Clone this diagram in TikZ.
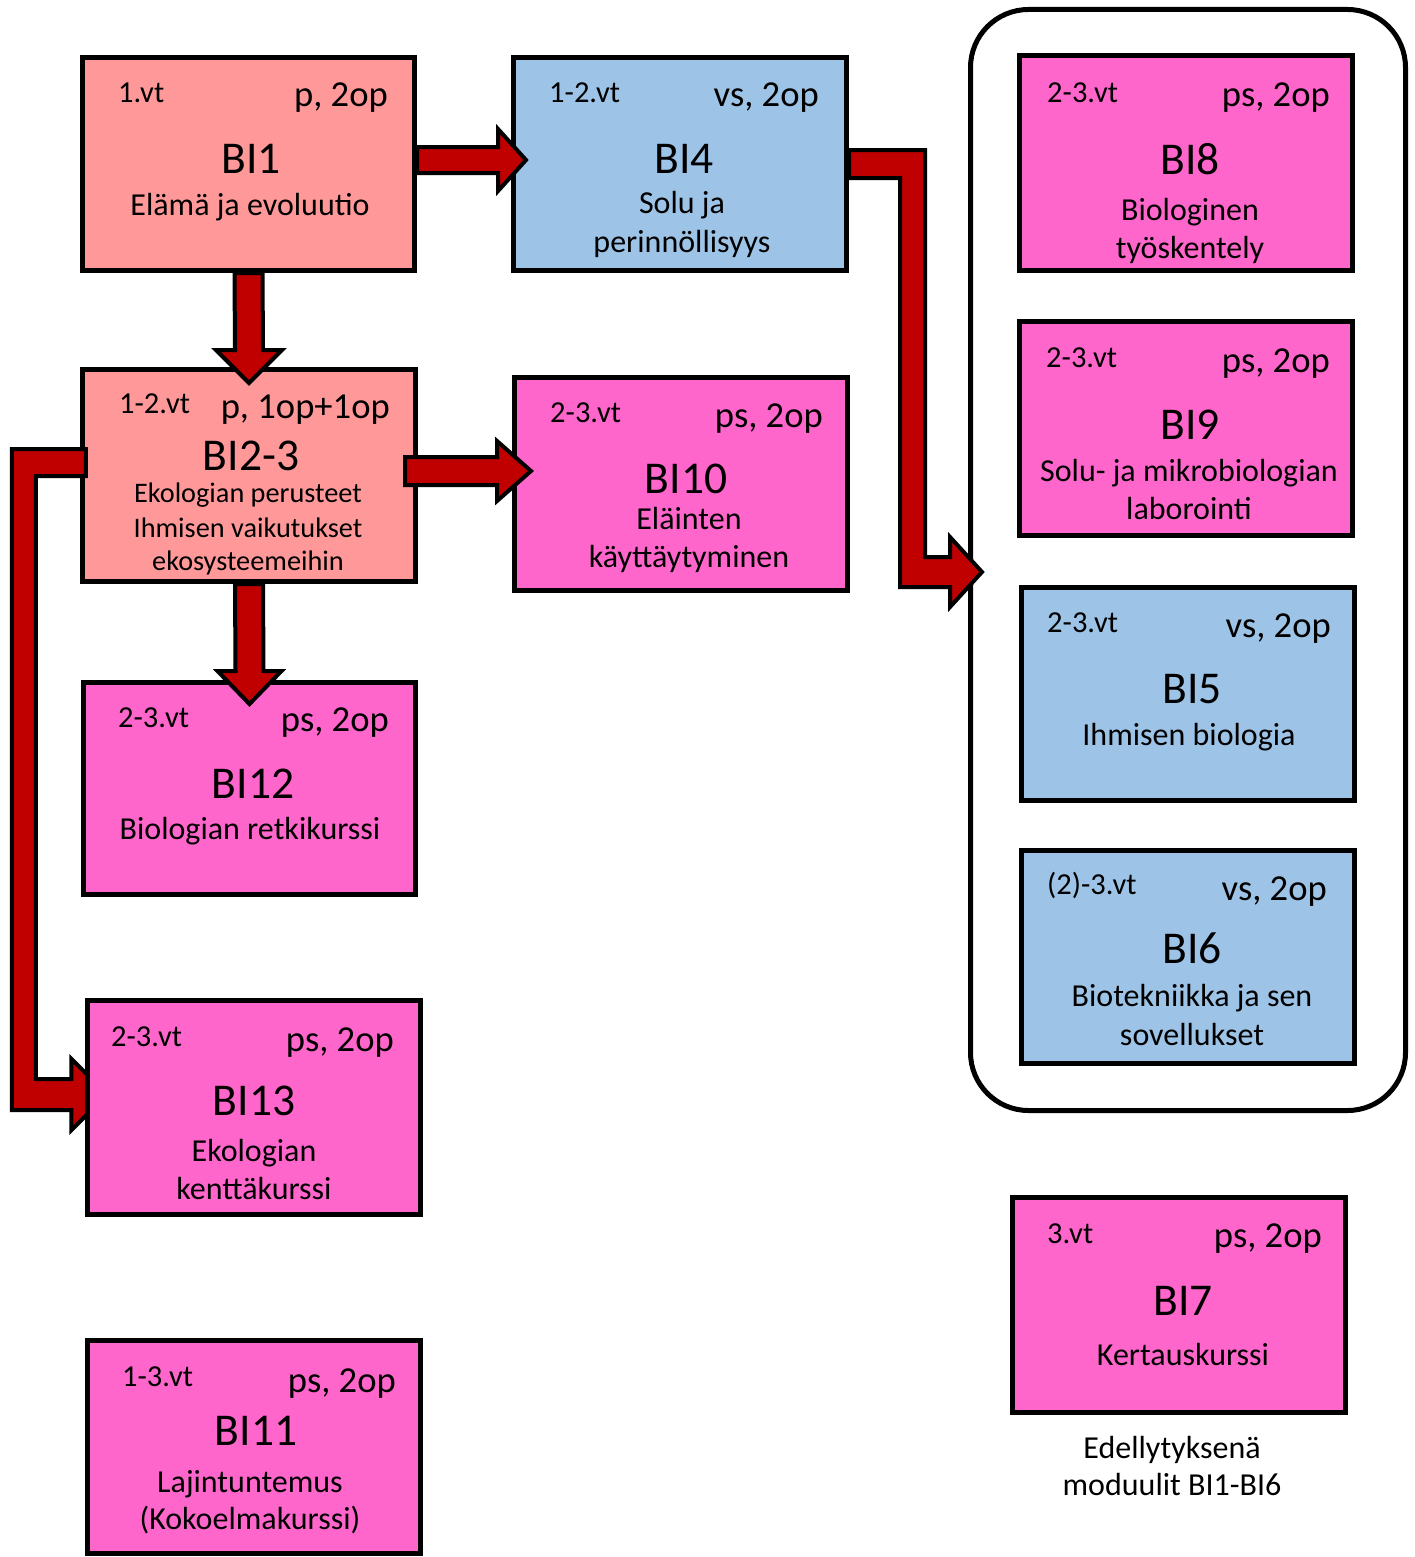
\documentclass[tikz,border=0pt]{standalone}
\usepackage{fontspec}
\setmainfont{Carlito}
\usetikzlibrary{calc}
\definecolor{salmon}{HTML}{FF9999}
\definecolor{lblue}{HTML}{9DC3E6}
\definecolor{pinkc}{HTML}{FF66CC}
\definecolor{arrowred}{HTML}{C00000}
\pgfdeclarelayer{toplayer}
\pgfsetlayers{main,toplayer}
\newcommand\fsz[1]{\fontsize{#1bp}{#1bp}\selectfont}
\newcommand\harrow[5]{\draw[blockarrow] ($(#1)+(0,-#3)$) -- ($(#2)+(-#5,-#3)$) -- ($(#2)+(-#5,-#4)$) -- (#2) -- ($(#2)+(-#5,#4)$) -- ($(#2)+(-#5,#3)$) -- ($(#1)+(0,#3)$) -- cycle;}
\newcommand\varrow[5]{\draw[blockarrow] ($(#1)+(-#3,0)$) -- ($(#2)+(-#3,-#5)$) -- ($(#2)+(-#4,-#5)$) -- (#2) -- ($(#2)+(#4,-#5)$) -- ($(#2)+(#3,-#5)$) -- ($(#1)+(#3,0)$) -- cycle;}
\tikzset{
  box/.style={draw=black, line width=5bp, inner sep=0pt, outer sep=2.5bp},
  lab/.style={anchor=base west, font=\fsz{30.5}, inner sep=0pt},
  crd/.style={anchor=base east, font=\fsz{36.6}, inner sep=0pt},
  ttl/.style={anchor=base, font=\fsz{45.5}, inner sep=0pt},
  sub/.style={anchor=base, font=\fsz{32}, inner sep=0pt},
  subs/.style={anchor=base, font=\fsz{28.3}, inner sep=0pt},
  blockarrow/.style={fill=arrowred, draw=black, line width=4bp, line join=miter},
}
\begin{document}
\begin{tikzpicture}[x=1bp, y=-1bp]
\useasboundingbox (0,0) rectangle (1415,1557);
% container
\node[draw=black, line width=5bp, rounded corners=58bp, outer sep=2.5bp, minimum width=435bp, minimum height=1101bp] (cont) at (1188,560) {};
% boxes
\node[box, fill=salmon, minimum width=332bp, minimum height=213bp] (BI1) at (248.5,164) {};
\node[box, fill=lblue, minimum width=333bp, minimum height=213bp] (BI4) at (680,164) {};
\node[box, fill=salmon, minimum width=333bp, minimum height=212bp] (BI23) at (249,475.5) {};
\node[box, fill=pinkc, minimum width=333bp, minimum height=213bp] (BI10) at (681,484) {};
\node[box, fill=pinkc, minimum width=332bp, minimum height=212bp] (BI12) at (249.5,788.5) {};
\node[box, fill=pinkc, minimum width=333bp, minimum height=213bp] (BI11) at (254,1447) {};
\node[box, fill=pinkc, minimum width=333bp, minimum height=215bp] (BI8) at (1186,163) {};
\node[box, fill=pinkc, minimum width=333bp, minimum height=214bp] (BI9) at (1186,428.5) {};
\node[box, fill=lblue, minimum width=333bp, minimum height=213bp] (BI5) at (1188,694) {};
\node[box, fill=lblue, minimum width=333bp, minimum height=213bp] (BI6) at (1188,957) {};
\node[box, fill=pinkc, minimum width=333bp, minimum height=215bp] (BI7) at (1179,1305) {};
\begin{pgfonlayer}{toplayer}
\node[box, fill=pinkc, minimum width=333bp, minimum height=214bp] (BI13) at (254,1107.5) {};
\node[lab] (BI13l) at (111,1046) {2-3.vt};
\node[crd] (BI13r) at (394,1051) {ps, 2op};
\node[ttl] (BI13t) at (254,1115) {BI13};
\node[sub] (BI13s) at (254,1161) {Ekologian};
\node[sub] (BI13u) at (254,1199) {kenttäkurssi};
\end{pgfonlayer}
% texts
\node[lab] (BI1l) at (118,103) {1.vt};
\node[crd] (BI1r) at (388,107) {p, 2op};
\node[ttl] (BI1t) at (251,173) {BI1};
\node[sub] (BI1s) at (250,215) {Elämä ja evoluutio};
\node[lab] (BI4l) at (549,103) {1-2.vt};
\node[crd] (BI4r) at (819,107) {vs, 2op};
\node[ttl] (BI4t) at (684,173) {BI4};
\node[sub] (BI4s) at (682,213) {Solu ja};
\node[sub] (BI4u) at (682,252) {perinnöllisyys};
\node[lab] (BI23l) at (119,413) {1-2.vt};
\node[crd] (BI23r) at (390,418) {p, 1op+1op};
\node[ttl] (BI23t) at (251,470) {BI2-3};
\node[subs] (BI23s) at (248,502) {Ekologian perusteet};
\node[subs] (BI23u) at (248,537) {Ihmisen vaikutukset};
\node[subs] (BI23v) at (248,570) {ekosysteemeihin};
\node[lab] (BI10l) at (550,422) {2-3.vt};
\node[crd] (BI10r) at (823,427) {ps, 2op};
\node[ttl] (BI10t) at (686,493) {BI10};
\node[sub] (BI10s) at (689,529) {Eläinten};
\node[sub] (BI10u) at (689,567) {käyttäytyminen};
\node[lab] (BI12l) at (118,727) {2-3.vt};
\node[crd] (BI12r) at (389,731) {ps, 2op};
\node[ttl] (BI12t) at (253,798) {BI12};
\node[sub] (BI12s) at (250,839) {Biologian retkikurssi};
\node[lab] (BI11l) at (122,1386) {1-3.vt};
\node[crd] (BI11r) at (396,1392) {ps, 2op};
\node[ttl] (BI11t) at (256,1445) {BI11};
\node[sub] (BI11s) at (250,1492) {Lajintuntemus};
\node[sub] (BI11u) at (250,1529) {(Kokoelmakurssi)};
\node[lab] (BI8l) at (1047,103) {2-3.vt};
\node[crd] (BI8r) at (1330,107) {ps, 2op};
\node[ttl] (BI8t) at (1190,174) {BI8};
\node[sub] (BI8s) at (1190,220) {Biologinen};
\node[sub] (BI8u) at (1190,258) {työskentely};
\node[lab] (BI9l) at (1046,367) {2-3.vt};
\node[crd] (BI9r) at (1330,372) {ps, 2op};
\node[ttl] (BI9t) at (1190,439) {BI9};
\node[sub] (BI9s) at (1189,481) {Solu- ja mikrobiologian};
\node[sub] (BI9u) at (1189,519) {laborointi};
\node[lab] (BI5l) at (1047,632) {2-3.vt};
\node[crd] (BI5r) at (1331,637) {vs, 2op};
\node[ttl] (BI5t) at (1192,703) {BI5};
\node[sub] (BI5s) at (1189,745) {Ihmisen biologia};
\node[lab] (BI6l) at (1047,894) {(2)-3.vt};
\node[crd] (BI6r) at (1327,900) {vs, 2op};
\node[ttl] (BI6t) at (1192,963) {BI6};
\node[sub] (BI6s) at (1192,1006) {Biotekniikka ja sen};
\node[sub] (BI6u) at (1192,1045) {sovellukset};
\node[lab] (BI7l) at (1047,1243) {3.vt};
\node[crd] (BI7r) at (1322,1247) {ps, 2op};
\node[ttl] (BI7t) at (1183,1315) {BI7};
\node[sub] (BI7s) at (1183,1365) {Kertauskurssi};
\node[sub] (cap1) at (1172,1458) {Edellytyksenä};
\node[sub] (cap2) at (1172,1495) {moduulit BI1-BI6};
% arrows
\coordinate (a1s) at ($(BI1.east)+(0,-4)$);
\coordinate (a1t) at ($(BI4.west)+(15,-4)$);
\harrow{a1s}{a1t}{13}{31}{28}
\coordinate (a2s) at (BI1.south);
\coordinate (a2t) at ($(BI23.north)+(0,16)$);
\varrow{a2s}{a2t}{14}{33}{33}
\coordinate (a3s) at ($(BI23.east)+(-13,-4.5)$);
\coordinate (a3t) at ($(BI10.west)+(19,-13)$);
\harrow{a3s}{a3t}{14}{30}{34}
\coordinate (a4s) at (BI23.south);
\coordinate (a4t) at ($(BI12.north)+(0,24)$);
\varrow{a4s}{a4t}{14}{32}{33}
% bent arrow BI4 -> container
\coordinate (a5s) at (BI4.east);
\coordinate (a5t) at ($(cont.west)+(14,12)$);
\draw[blockarrow] ($(a5s)+(0,-14)$) -- ($(a5s)+(76,-14)$) -- ($(a5t)+(-57,-15)$) -- ($(a5t)+(-32,-15)$) -- ($(a5t)+(-32,-35)$) -- (a5t) -- ($(a5t)+(-32,35)$) -- ($(a5t)+(-32,15)$) -- ($(a5t)+(-82,15)$) -- ($(a5s)+(51,14)$) -- ($(a5s)+(0,14)$) -- cycle;
% bent arrow BI2-3 -> BI13
\coordinate (a6s) at ($(BI23.west)+(6,-13)$);
\coordinate (a6t) at ($(BI13.west)+(22,-13)$);
\coordinate (a6c) at ($(a6s)+(-74,-13.5)$);
\coordinate (a6d) at ($(a6c)+(24,0)$);
\coordinate (a6b) at ($(a6t)+(0,15.5)$);
\coordinate (a6e) at ($(a6t)+(0,-15.5)$);
\coordinate (a6f) at ($(a6s)+(0,13.5)$);
\draw[blockarrow] ($(a6s)+(0,-13.5)$) -- (a6c) -- (a6c |- a6b) -- ($(a6t)+(-35.5,15.5)$) -- ($(a6t)+(-35.5,35.5)$) -- (a6t) -- ($(a6t)+(-35.5,-35.5)$) -- ($(a6t)+(-35.5,-15.5)$) -- (a6d |- a6e) -- (a6d |- a6f) -- (a6f) -- cycle;
\end{tikzpicture}
\end{document}
